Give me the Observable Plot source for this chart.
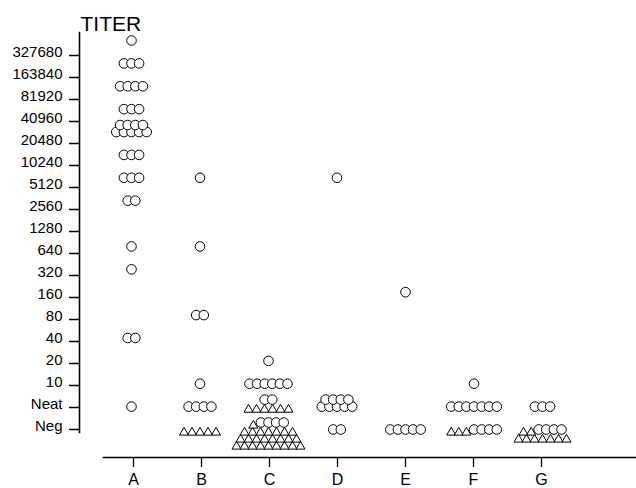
<!DOCTYPE html>
<html><head><meta charset="utf-8">
<script src="https://cdn.jsdelivr.net/npm/d3@7"></script>
<script src="https://cdn.jsdelivr.net/npm/@observablehq/plot@0.6"></script>
<style>
html,body{margin:0;padding:0;background:#fff;}
#chart{position:relative;width:636px;height:488px;}
#chart svg{position:absolute;left:0;top:0;}
</style></head><body><div id="chart"></div>
<script>
const groups = ["A","B","C","D","E","F","G"];
const levels = ["327680","163840","81920","40960","20480","10240","5120","2560","1280","640","320","160","80","40","20","10","Neat","Neg"];
const axisTitle = "TITER";
// each row of symbols: [group, titer level, row lift above the level line, triangles, circles]
const cellRows = [
  ["A","327680",0,0,1],["A","163840",0,0,3],["A","81920",0,0,4],["A","40960",0,0,3],
  ["A","20480",0,0,5],["A","20480",1,0,4],["A","10240",0,0,3],["A","5120",0,0,3],
  ["A","2560",0,0,2],["A","640",0,0,1],["A","320",0,0,1],["A","40",0,0,2],["A","Neat",0,0,1],
  ["B","5120",0,0,1],["B","640",0,0,1],["B","80",0,0,2],["B","10",0,0,1],["B","Neat",0,0,4],["B","Neg",0,5,0],
  ["C","20",0,0,1],["C","10",0,0,6],["C","Neat",0,6,0],["C","Neat",1,0,2],
  ["C","Neg",-2,9,0],["C","Neg",-1,8,0],["C","Neg",0,7,0],["C","Neg",1,1,4],
  ["D","5120",0,0,1],["D","Neat",0,0,5],["D","Neat",1,0,4],["D","Neg",0,0,2],
  ["E","160",0,0,1],["E","Neg",0,0,5],
  ["F","10",0,0,1],["F","Neat",0,0,7],["F","Neg",0,3,4],
  ["G","Neat",0,0,3],["G","Neg",-1,7,0],["G","Neg",0,2,4]
];

const W = 636, H = 488;
const font = "'Liberation Sans', Arial, Helvetica, sans-serif";
const xRange = [131, 542];
const dotYRange = [40, 429];
const pxPerX = (xRange[1] - xRange[0]) / (groups.length - 1);
const pxPerY = (dotYRange[1] - dotYRange[0]) / (levels.length - 1);
const rowStep = 7;

// expand rows into individual symbols (layout offsets in pixels converted to scale units)
const tri = [], circ = [];
for (const [g, lv, lift, nt, nc] of cellRows) {
  const n = nt + nc;
  const sp = nc > 0 ? 7.6 : 8;
  const gi = groups.indexOf(g), li = levels.indexOf(lv);
  for (let k = 0; k < n; k++) {
    const off = (k - (n - 1) / 2) * sp;
    const d = {x: gi + off / pxPerX, y: li - lift * rowStep / pxPerY};
    (k < nt ? tri : circ).push(d);
  }
}

const axisPlot = Plot.plot({
  width: W, height: H,
  marginTop: 32, marginBottom: 31, marginLeft: 79, marginRight: 1,
  x: {type: "point", domain: groups, range: xRange, padding: 0},
  y: {type: "point", domain: levels, range: [52, 432], padding: 0},
  style: {fontFamily: font, color: "black", background: "white"},
  marks: [
    Plot.frame({anchor: "left", insetBottom: 25, strokeWidth: 1.6}),
    Plot.frame({anchor: "bottom", insetLeft: 24, strokeWidth: 1.6}),
    Plot.axisY({tickSize: 10, tickFormat: () => "", strokeWidth: 1.5, label: null}),
    Plot.text(levels, {y: d => d, frameAnchor: "left", textAnchor: "end", dx: -17, dy: -3, fontSize: 15}),
    Plot.axisX({tickSize: 10, tickPadding: 6, fontSize: 16, strokeWidth: 1.3, label: null}),
    Plot.text([axisTitle], {frameAnchor: "top-left", textAnchor: "start", lineAnchor: "bottom", dx: 1, dy: -2, fontSize: 21})
  ]
});

const dotPlot = Plot.plot({
  width: W, height: H,
  marginTop: 0, marginBottom: 0, marginLeft: 0, marginRight: 0,
  x: {type: "linear", domain: [0, groups.length - 1], range: xRange, axis: null},
  y: {type: "linear", domain: [0, levels.length - 1], range: dotYRange, axis: null},
  style: {background: "transparent"},
  marks: [
    Plot.dot(tri, {x: "x", y: "y", symbol: "triangle", r: 3.34, stroke: "black", fill: "white", strokeWidth: 1, dy: 3}),
    Plot.dot(circ, {x: "x", y: "y", r: 4.8, stroke: "black", fill: "white", strokeWidth: 1})
  ]
});

const el = document.getElementById("chart");
el.appendChild(axisPlot);
el.appendChild(dotPlot);
</script></body></html>
